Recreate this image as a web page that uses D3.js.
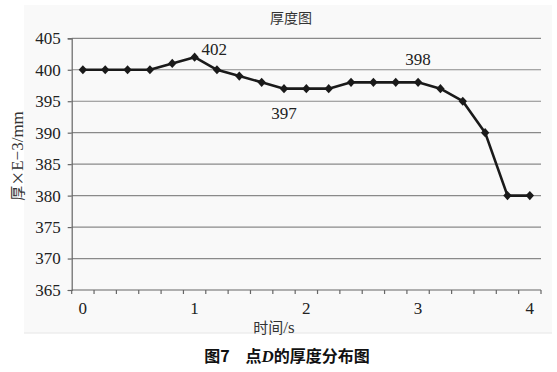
<!DOCTYPE html>
<html><head><meta charset="utf-8">
<script src="https://cdn.jsdelivr.net/npm/d3@7"></script>
</head>
<body style="margin:0">
<script>
const categories = ["0","0.2","0.4","0.6","0.8","1","1.2","1.4","1.6","1.8","2","2.2","2.4","2.6","2.8","3","3.2","3.4","3.6","3.8","4"];
const thickness = [400,400,400,400,401,402,400,399,398,397,397,397,398,398,398,398,397,395,390,380,380];
const yTicks = [365,370,375,380,385,390,395,400,405];
const xLabels = ["0","1","2","3","4"];
const dataLabels = [
  {i:5, text:"402", pos:"right"},
  {i:9, text:"397", pos:"below"},
  {i:15, text:"398", pos:"above"}
];

const W = 557, H = 372;
const L = 71.7, R = 541, T = 38.3, B = 290;
const SERIF = "Liberation Serif";
const CJK = "Noto Sans CJK SC";

const svg = d3.select("body").append("svg").attr("width", W).attr("height", H);

svg.append("rect").attr("x",24).attr("y",5).attr("width",528).attr("height",328)
  .attr("fill","#f9f9f9");
svg.append("line").attr("x1",24).attr("x2",552).attr("y1",333).attr("y2",333)
  .attr("stroke","#e6e6e6").attr("stroke-width",1);

const x = d3.scaleBand().domain(categories).range([L, R]).padding(0);
const y = d3.scaleLinear().domain([365, 405]).range([B, T]);

// gridlines
svg.append("g").selectAll("line").data(yTicks.filter(v => v !== 365)).join("line")
  .attr("x1", L).attr("x2", R).attr("y1", d => y(d)).attr("y2", d => y(d))
  .attr("stroke", "#8a8a8a").attr("stroke-width", 1.2);

// y axis
const yAxis = d3.axisLeft(y).tickValues(yTicks).tickSize(4).tickPadding(7);
const gy = svg.append("g").attr("transform", `translate(${L},0)`).call(yAxis);
gy.attr("font-family", SERIF).attr("font-size", 17);
gy.select(".domain").attr("stroke", "#666").attr("stroke-width", 1.2);
gy.selectAll(".tick line").attr("stroke", "#666").attr("stroke-width", 1.2);
gy.selectAll(".tick text").attr("fill", "#222").attr("font-family", SERIF).attr("font-size", 17);

// x axis: labels at every 5th category
const xAxis = d3.axisBottom(x).tickValues(xLabels).tickSize(0).tickPadding(12);
const gx = svg.append("g").attr("transform", `translate(0,${B})`).call(xAxis);
gx.attr("font-family", SERIF).attr("font-size", 17);
gx.select(".domain").remove();
gx.selectAll(".tick text").attr("fill", "#222").attr("font-family", SERIF).attr("font-size", 17);
// x baseline and ticks at category boundaries
svg.append("line").attr("x1", L).attr("x2", R).attr("y1", B).attr("y2", B)
  .attr("stroke", "#666").attr("stroke-width", 1.2);
const bounds = categories.map(c => x(c)).concat([x(categories[categories.length-1]) + x.bandwidth()]);
svg.append("g").selectAll("line").data(bounds).join("line")
  .attr("x1", d => d).attr("x2", d => d).attr("y1", B).attr("y2", B + 4)
  .attr("stroke", "#666").attr("stroke-width", 1.2);

// line
const cx = (c) => x(c) + x.bandwidth() / 2;
const line = d3.line().x((d, i) => cx(categories[i])).y(d => y(d));
svg.append("path").datum(thickness).attr("d", line)
  .attr("fill", "none").attr("stroke", "#1a1a1a").attr("stroke-width", 2.6)
  .attr("stroke-linejoin", "round");

// diamond markers
svg.append("g").selectAll("path").data(thickness).join("path")
  .attr("transform", (d, i) => `translate(${cx(categories[i])},${y(d)})`)
  .attr("d", "M0,-4.6L4.2,0L0,4.6L-4.2,0Z")
  .attr("fill", "#1a1a1a");

// data labels
svg.append("g").selectAll("text").data(dataLabels).join("text")
  .attr("x", d => cx(categories[d.i]) + (d.pos === "right" ? 7 : 0))
  .attr("y", d => y(thickness[d.i]) + (d.pos === "right" ? -2 : d.pos === "below" ? 30 : -17))
  .attr("text-anchor", d => d.pos === "right" ? "start" : "middle")
  .attr("font-size", 17).attr("font-family", SERIF).attr("fill", "#222")
  .text(d => d.text);

// title
svg.append("text").attr("x", 291).attr("y", 23).attr("text-anchor", "middle")
  .attr("font-family", CJK).attr("font-size", 14).attr("fill","#333").text("厚度图");

// y label
const yl = svg.append("text").attr("transform", "translate(23,156) rotate(-90)")
  .attr("text-anchor", "middle").attr("font-size", 17).attr("fill", "#333").attr("font-family", SERIF);
yl.append("tspan").attr("font-family", CJK).attr("font-size", 15).text("厚×");
yl.append("tspan").attr("font-family", SERIF).text("E−3/mm");

// x label
const xl = svg.append("text").attr("x", 274).attr("y", 333).attr("text-anchor", "middle")
  .attr("font-size", 17).attr("fill", "#333").attr("font-family", SERIF);
xl.append("tspan").attr("font-family", CJK).attr("font-size", 15).text("时间");
xl.append("tspan").attr("font-family", SERIF).text("/s");

// caption
const cap = svg.append("text").attr("x", 287).attr("y", 362).attr("text-anchor", "middle")
  .attr("font-family", CJK).attr("font-size", 16).attr("font-weight", "bold").attr("fill", "#111");
cap.append("tspan").text("图7　点");
cap.append("tspan").attr("font-family", SERIF).attr("font-style", "italic").attr("font-size", 17).text("D");
cap.append("tspan").text("的厚度分布图");
</script>
</body></html>
